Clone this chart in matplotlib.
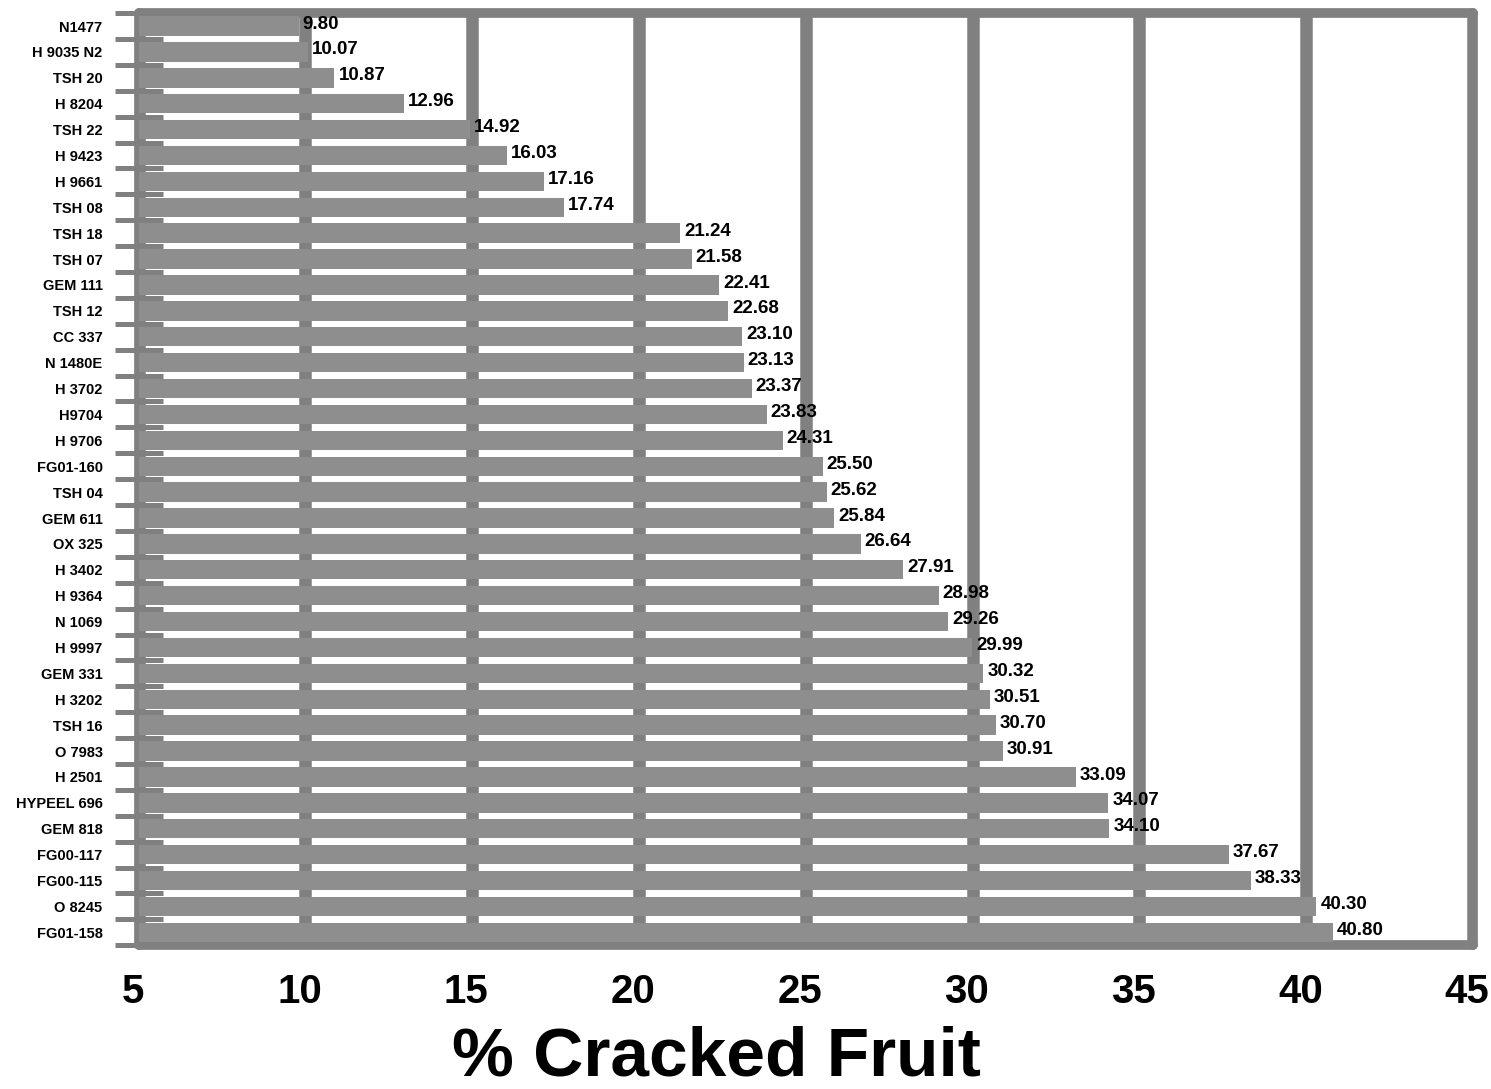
import numpy as np
import matplotlib.pyplot as plt
from matplotlib.transforms import ScaledTranslation

cultivars = ["N1477", "H 9035 N2", "TSH 20", "H 8204", "TSH 22", "H 9423", "H 9661",
             "TSH 08", "TSH 18", "TSH 07", "GEM 111", "TSH 12", "CC 337", "N 1480E",
             "H 3702", "H9704", "H 9706", "FG01-160", "TSH 04", "GEM 611", "OX 325",
             "H 3402", "H 9364", "N 1069", "H 9997", "GEM 331", "H 3202", "TSH 16",
             "O 7983", "H 2501", "HYPEEL 696", "GEM 818", "FG00-117", "FG00-115",
             "O 8245", "FG01-158"]
cracked = [9.80, 10.07, 10.87, 12.96, 14.92, 16.03, 17.16, 17.74, 21.24, 21.58,
           22.41, 22.68, 23.10, 23.13, 23.37, 23.83, 24.31, 25.50, 25.62, 25.84,
           26.64, 27.91, 28.98, 29.26, 29.99, 30.32, 30.51, 30.70, 30.91, 33.09,
           34.07, 34.10, 37.67, 38.33, 40.30, 40.80]
xticks = [5, 10, 15, 20, 25, 30, 35, 40, 45]

plt.rcParams['font.family'] = ['Liberation Sans', 'DejaVu Sans']
plt.rcParams['font.weight'] = 'bold'

bar_col = '#8e8e8e'
line_col = '#808080'

fig = plt.figure(figsize=(14.91, 10.89), dpi=100)
ax = fig.add_axes([0.093, 0.132, 0.895, 0.856])

y = np.arange(len(cultivars))
ax.barh(y, cracked, height=0.75, left=0, color=bar_col, zorder=3)

for yi, v in zip(y, cracked):
    ax.text(v + 0.12, yi + 0.1, "%.2f" % v, va='baseline', ha='left',
            fontsize=13.5, fontweight='bold', color='black', zorder=4)

ax.set_xlim(5, 45)
ax.set_ylim(len(cultivars) - 0.5, -0.5)

ax.set_xticks(xticks)
ax.set_xticklabels([str(t) for t in xticks], fontsize=29, fontweight='bold')
ax.tick_params(axis='x', length=0, pad=20)
# numbers sit a little left of their gridlines
shift = ScaledTranslation(-6 / 100, 0, fig.dpi_scale_trans)
for lab in ax.get_xticklabels():
    lab.set_transform(lab.get_transform() + shift)

ax.set_yticks(y)
ax.set_yticklabels(cultivars, fontsize=10.5, fontweight='bold')
ax.tick_params(axis='y', which='major', length=0, pad=26)
ax.set_yticks(np.arange(len(cultivars) + 1) - 0.5, minor=True)
ax.tick_params(axis='y', which='minor', direction='inout', length=34, width=3.6,
               color=line_col)

ax.set_axisbelow(True)
ax.xaxis.grid(True, color=line_col, linewidth=9)
for s in ax.spines.values():
    s.set_color(line_col)
    s.set_linewidth(7)
    s.set_zorder(2)
    s.set_capstyle('round')
    s.set_joinstyle('round')

fig.text(716 / 1491, 0.012, "% Cracked Fruit", ha='center', va='baseline',
         fontsize=50, fontweight='bold')

fig.savefig("out.png", dpi=100)
